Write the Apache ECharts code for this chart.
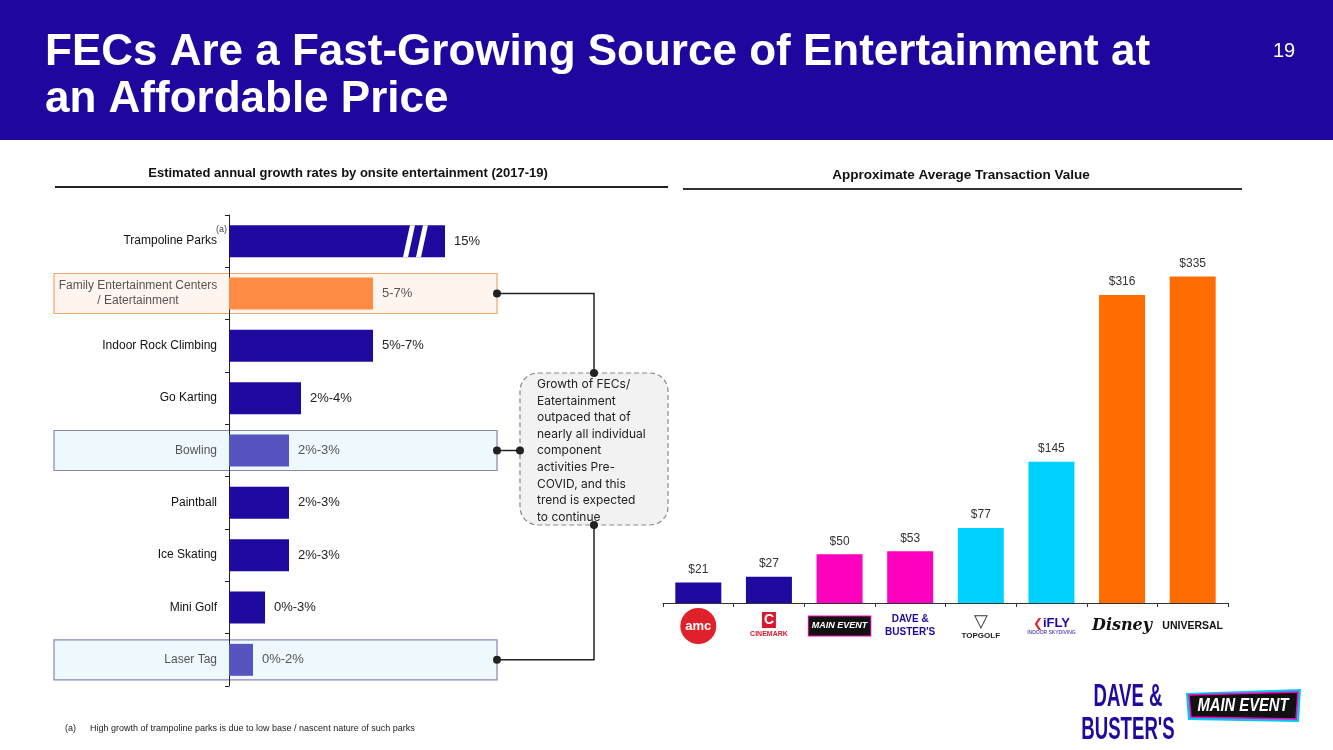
<!DOCTYPE html>
<html>
<head>
<meta charset="utf-8">
<title>FECs Are a Fast-Growing Source of Entertainment</title>
<script src="https://cdn.jsdelivr.net/npm/echarts@6.0.0/dist/echarts.min.js"></script>
<style>
    html, body { margin: 0; padding: 0; background: #fff; }
    #chart { width: 1333px; height: 750px; }
</style>
</head>
<body>
<div id="chart"></div>
<script>
// left panel: growth rates
const activities = ['Trampoline Parks', 'Family Entertainment Centers\n/ Eatertainment', 'Indoor Rock Climbing',
    'Go Karting', 'Bowling', 'Paintball', 'Ice Skating', 'Mini Golf', 'Laser Tag'];
const growthMid = [15, 6, 6, 3, 2.5, 2.5, 2.5, 1.5, 1];   // midpoint of each range
const growthLabels = ['15%', '5-7%', '5%-7%', '2%-4%', '2%-3%', '2%-3%', '2%-3%', '0%-3%', '0%-2%'];
const highlighted = ['Family Entertainment Centers\n/ Eatertainment', 'Bowling', 'Laser Tag'];
const breakAt = 9;   // trampoline bar is drawn broken

// right panel: average transaction value
const brands = ['AMC', 'Cinemark', 'Main Event', "Dave & Buster's", 'Topgolf', 'iFLY', 'Disney', 'Universal'];
const ticketValues = [21, 27, 50, 53, 77, 145, 316, 335];

const NAVY = '#1E0A9E';
const barColors = {
    growth: [NAVY, '#FF8C42', NAVY, NAVY, '#5754C0', NAVY, NAVY, NAVY, '#5754C0'],
    ticket: [NAVY, NAVY, '#FF00BF', '#FF00BF', '#00D2FF', '#00D2FF', '#FF6C00', '#FF6C00']
};

const labelFont = '"Liberation Sans", Arial, sans-serif';
const headFont = '"Liberation Sans Narrow", "Arial Narrow", "Liberation Sans", sans-serif';

let myChart = echarts.init(document.getElementById('chart'), null, { renderer: 'canvas' });

// logos under the right axis, as rich text
function logoFor(name) {
    switch (name) {
        case 'AMC': return '{amc|amc}';
        case 'Cinemark': return '{cinC|C}\n{cinT|CINEMARK}';
        case 'Main Event': return '{me|MAIN EVENT}';
        case "Dave & Buster's": return '{db|DAVE &}\n{db|BUSTER\'S}';
        case 'Topgolf': return '{tgi|▽}\n{tg|TOPGOLF}';
        case 'iFLY': return '{ifw|❮}{ifl|iFLY}\n{ifs|INDOOR SKYDIVING}';
        case 'Disney': return '{dis|Disney}';
        case 'Universal': return '{uni|UNIVERSAL}';
    }
    return name;
}

myChart.setOption({
    backgroundColor: '#fff',
    animation: false,
    title: [{
        text: 'FECs Are a Fast-Growing Source of Entertainment at\nan Affordable Price',
        left: 40, top: 24,
        textStyle: { color: '#fff', fontSize: 44, fontWeight: 'bold', fontFamily: labelFont, lineHeight: 47 }
    }, {
        text: '19', left: 1268, top: 36,
        textStyle: { color: '#fff', fontSize: 20, fontWeight: 'normal', fontFamily: labelFont }
    }, {
        text: 'Estimated annual growth rates by onsite entertainment (2017-19)',
        left: 343, top: 162, textAlign: 'center',
        textStyle: { color: '#111', fontSize: 13, fontWeight: 'bold', fontFamily: headFont }
    }, {
        text: 'Approximate Average Transaction Value',
        left: 956, top: 163, textAlign: 'center',
        textStyle: { color: '#111', fontSize: 13.5, fontWeight: 'bold', fontFamily: headFont }
    }],
    grid: [
        { left: 229, top: 215, width: 360, height: 471 },
        { left: 663, top: 213, width: 565, height: 390 }
    ],
    xAxis: [{
        gridIndex: 0, type: 'value', min: 0, max: 15, show: false
    }, {
        gridIndex: 1, type: 'category', data: brands,
        axisLine: { lineStyle: { color: '#333', width: 1 } },
        axisTick: { show: true, length: 4, lineStyle: { color: '#333' } },
        axisLabel: {
            margin: 23, verticalAlign: 'middle', interval: 0,
            formatter: logoFor,
            rich: {
                amc: { backgroundColor: '#E0202A', color: '#fff', width: 36, height: 36, borderRadius: 18,
                    align: 'center', fontSize: 13, fontWeight: 'bold', fontFamily: labelFont },
                cinC: { backgroundColor: '#D7192D', color: '#fff', width: 14, height: 16, align: 'center',
                    fontSize: 14, fontWeight: 'bold', fontFamily: labelFont },
                cinT: { color: '#D7192D', fontSize: 7, fontWeight: 'bold', fontFamily: labelFont, lineHeight: 12 },
                me: { backgroundColor: '#111', color: '#fff', fontStyle: 'italic', fontWeight: 'bold',
                    fontSize: 9, fontFamily: headFont, padding: [5, 3], borderColor: '#FF00BF', borderWidth: 1 },
                db: { color: NAVY, fontSize: 10, fontWeight: 'bold', fontFamily: headFont, lineHeight: 13 },
                tgi: { color: '#333', fontSize: 18, lineHeight: 20, fontFamily: '"DejaVu Sans", sans-serif' },
                tg: { color: '#222', fontSize: 8, fontWeight: 'bold', fontFamily: labelFont },
                ifw: { color: '#E3242B', fontSize: 12, fontWeight: 'bold', fontFamily: '"DejaVu Sans", sans-serif' },
                ifl: { color: NAVY, fontSize: 13, fontWeight: 'bold', fontFamily: labelFont },
                ifs: { color: NAVY, fontSize: 5, fontFamily: labelFont, align: 'center' },
                dis: { color: '#111', fontSize: 16, fontStyle: 'italic', fontWeight: 'bold',
                    fontFamily: '"DejaVu Serif", serif' },
                uni: { color: '#111', fontSize: 10.5, fontWeight: 'bold', fontFamily: labelFont }
            }
        }
    }],
    yAxis: [{
        gridIndex: 0, type: 'category', data: activities, inverse: true,
        axisLine: { lineStyle: { color: '#222', width: 1 } },
        axisTick: { show: true, length: 4, lineStyle: { color: '#222' } },
        axisLabel: {
            margin: 12, fontSize: 12, fontFamily: labelFont,
            formatter: function (v) {
                if (v.indexOf('\n') >= 0) {
                    return v.split('\n').map(function (s) { return '{fec|' + s + '}'; }).join('\n');
                }
                return highlighted.indexOf(v) >= 0 ? '{hl|' + v + '}' : '{n|' + v + '}';
            },
            rich: {
                n: { color: '#111', fontSize: 12, fontFamily: labelFont },
                hl: { color: '#555', fontSize: 12, fontFamily: labelFont },
                fec: { color: '#555', fontSize: 12, fontFamily: labelFont, width: 158, align: 'center', lineHeight: 15 }
            }
        }
    }, {
        gridIndex: 1, type: 'value', min: 0, max: 400, show: false
    }],
    series: [{
        type: 'bar', xAxisIndex: 0, yAxisIndex: 0, barWidth: 32, z: 3,
        data: growthMid.map(function (v, i) {
            return {
                value: Math.min(v, breakAt),
                itemStyle: { color: barColors.growth[i] },
                label: { color: highlighted.indexOf(activities[i]) >= 0 ? '#555' : '#222' }
            };
        }),
        label: {
            show: true, position: 'right', distance: 9, fontSize: 13, fontFamily: labelFont,
            formatter: function (p) { return growthLabels[p.dataIndex]; }
        }
    }, {
        type: 'bar', xAxisIndex: 1, yAxisIndex: 1, barWidth: 46,
        data: ticketValues.map(function (v, i) {
            return { value: v, itemStyle: { color: barColors.ticket[i] } };
        }),
        label: {
            show: true, position: 'top', distance: 7, fontSize: 12, color: '#333', fontFamily: labelFont,
            formatter: function (p) { return '$' + p.value; }
        }
    }]
});

// decorations that hang off the axes
function px(v) { return myChart.convertToPixel({ xAxisIndex: 0 }, v); }
function py(cat) { return myChart.convertToPixel({ yAxisIndex: 0 }, cat); }

const boxLeft = 54, boxRight = 497, boxH = 40;
const boxStyle = {
    fec: { fill: '#FEF5EE', stroke: '#F0A46A' },
    other: { fill: '#EEF9FE', stroke: '#8886B5' }
};

let graphics = [{
    type: 'rect', z: -10, shape: { x: 0, y: 0, width: 1333, height: 140 },
    style: { fill: '#1E069E' }, silent: true
}, {
    type: 'line', shape: { x1: 55, y1: 187, x2: 668, y2: 187 }, style: { stroke: '#222', lineWidth: 2 }
}, {
    type: 'line', shape: { x1: 683, y1: 189, x2: 1242, y2: 189 }, style: { stroke: '#333', lineWidth: 2 }
}];

highlighted.forEach(function (cat, i) {
    const st = i === 0 ? boxStyle.fec : boxStyle.other;
    const cy = py(cat);
    graphics.push({
        type: 'rect', z: 0,
        shape: { x: boxLeft, y: cy - boxH / 2, width: boxRight - boxLeft, height: boxH },
        style: { fill: st.fill, stroke: st.stroke, lineWidth: 1.2 }
    });
});

// trampoline break marks
const tY = py(activities[0]);
const bTop = tY - 16, bBot = tY + 16;
[[7.25, 7.46], [7.79, 8.0]].forEach(function (s) {
    const slant = 0.29;
    graphics.push({
        type: 'polygon', z: 20,
        shape: { points: [[px(s[0]), bBot], [px(s[1]), bBot], [px(s[1] + slant), bTop], [px(s[0] + slant), bTop]] },
        style: { fill: '#fff' }
    });
});

graphics.push({
    type: 'text', z: 20, style: { text: '(a)', x: 216, y: 225, fontSize: 9, fill: '#444', fontFamily: labelFont }
});

// callout box and connectors
const cb = { x: 520, y: 373, w: 148, h: 152 };
const yFec = py(highlighted[0]), yBowl = py(highlighted[1]), yLaser = py(highlighted[2]);
const lineSt = { stroke: '#222', lineWidth: 1.5 };
const midX = 594;
graphics.push(
    { type: 'polyline', z: 5, shape: { points: [[boxRight, yFec], [midX, yFec], [midX, cb.y]] }, style: lineSt },
    { type: 'polyline', z: 5, shape: { points: [[boxRight, yBowl], [cb.x, yBowl]] }, style: lineSt },
    { type: 'polyline', z: 5, shape: { points: [[boxRight, yLaser], [midX, yLaser], [midX, cb.y + cb.h]] }, style: lineSt },
    {
        type: 'rect', z: 6, shape: { x: cb.x, y: cb.y, width: cb.w, height: cb.h, r: 18 },
        style: { fill: '#F2F2F2', stroke: '#8a8a8a', lineWidth: 1.2, lineDash: [5, 3] }
    },
    {
        type: 'text', z: 7,
        style: {
            text: 'Growth of FECs/\nEatertainment\noutpaced that of\nnearly all individual\ncomponent\nactivities Pre-\nCOVID, and this\ntrend is expected\nto continue',
            x: 537, y: 376, fontSize: 12, lineHeight: 16.6, fill: '#222', fontFamily: 'Inter, "Noto Sans", sans-serif'
        }
    }
);
[[boxRight, yFec], [midX, cb.y], [boxRight, yBowl], [cb.x, yBowl], [boxRight, yLaser], [midX, cb.y + cb.h]].forEach(function (p) {
    graphics.push({ type: 'circle', z: 8, shape: { cx: p[0], cy: p[1], r: 4 }, style: { fill: '#222' } });
});

// footnote
graphics.push(
    { type: 'text', style: { text: '(a)', x: 65, y: 724, fontSize: 9, fill: '#222', fontFamily: labelFont } },
    { type: 'text', style: { text: 'High growth of trampoline parks is due to low base / nascent nature of such parks',
        x: 90, y: 724, fontSize: 9, fill: '#222', fontFamily: labelFont } }
);

// corner logos
graphics.push(
    { type: 'text', x: 1128, y: 714, scaleX: 0.6,
        style: { text: 'DAVE &\nBUSTER\'S', x: 0, y: 0, align: 'center', verticalAlign: 'middle',
        fontSize: 31, lineHeight: 33, fontWeight: 'bold', fill: NAVY, fontFamily: headFont } },
    { type: 'polygon', shape: { points: [[1186, 693], [1301, 689], [1299, 722], [1188, 720]] },
        style: { fill: '#00C8F0' } },
    { type: 'polygon', shape: { points: [[1189, 695], [1298, 692], [1296, 719], [1191, 717]] },
        style: { fill: '#111', stroke: '#FF00BF', lineWidth: 1.5 } },
    { type: 'text', x: 1243, y: 706, scaleX: 0.82,
        style: { text: 'MAIN EVENT', x: 0, y: 0, align: 'center', verticalAlign: 'middle',
        fontSize: 18, fontWeight: 'bold', fontStyle: 'italic', fill: '#fff', fontFamily: headFont } }
);

myChart.setOption({ graphic: graphics });
</script>
</body>
</html>
